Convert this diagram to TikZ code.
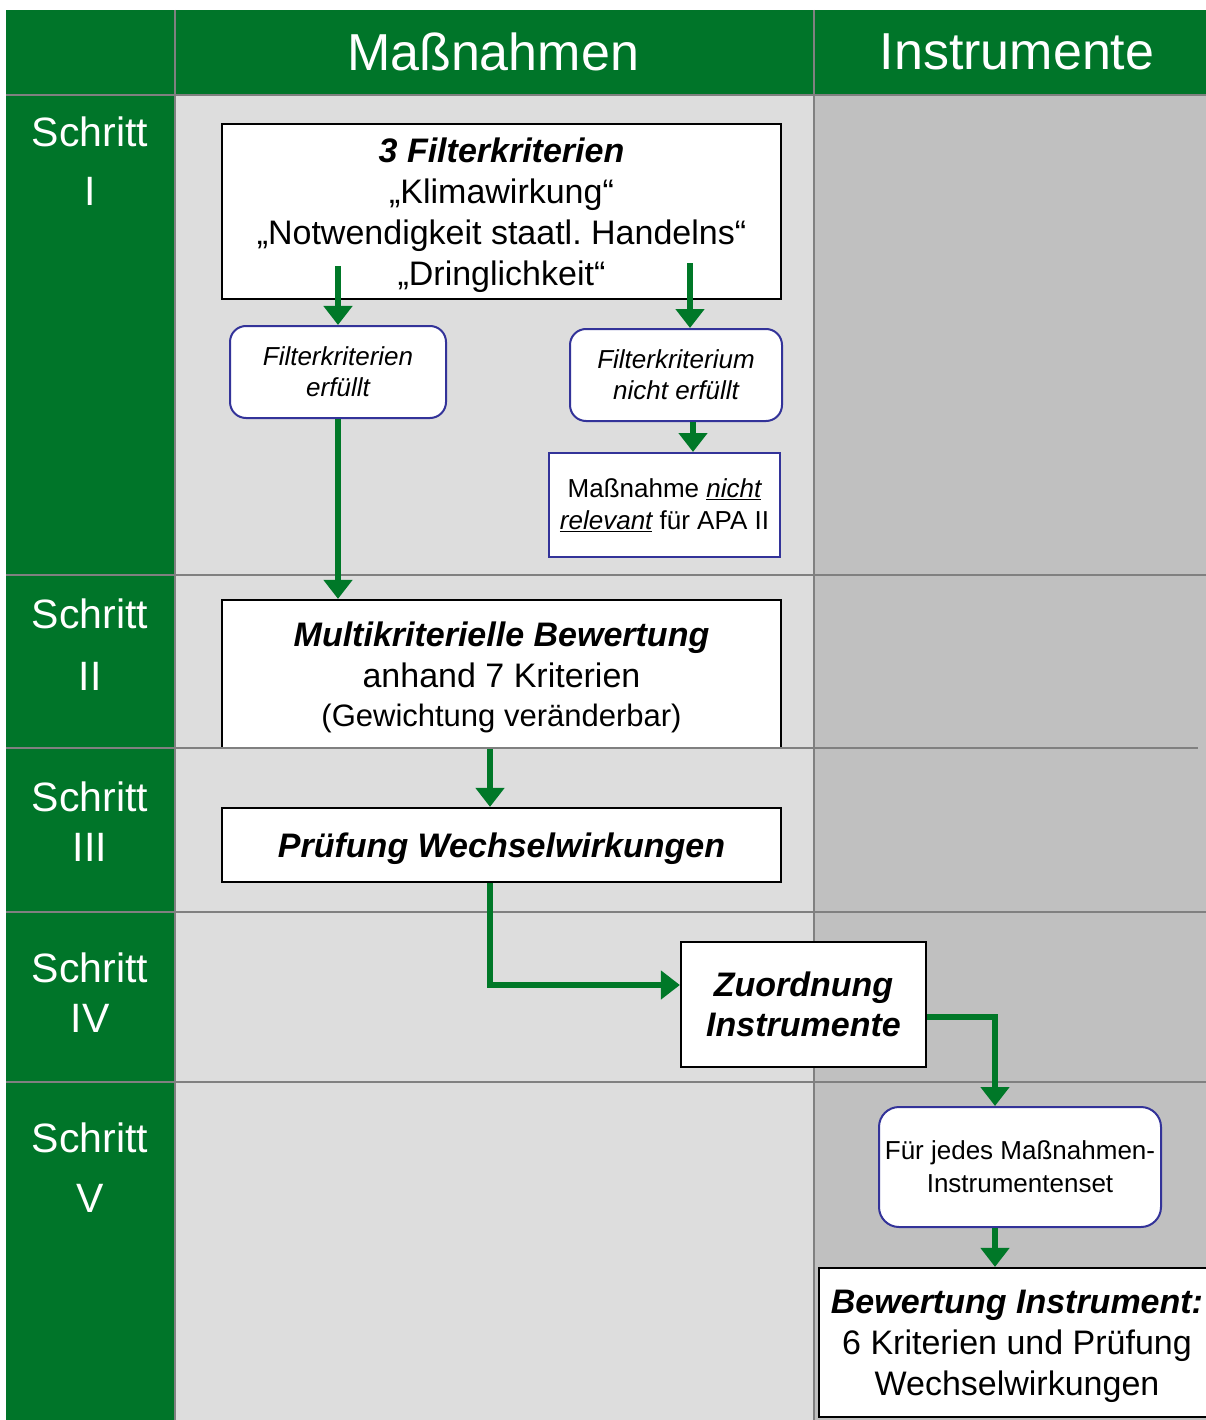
\documentclass[tikz,border=0pt]{standalone}
\usepackage{fontspec}
\setmainfont{Liberation Sans}
\frenchspacing
\usetikzlibrary{calc,arrows.meta}
\definecolor{hdr}{RGB}{0,117,41}
\definecolor{cellA}{RGB}{221,221,221}
\definecolor{cellB}{RGB}{192,192,192}
\definecolor{gridc}{RGB}{128,128,128}
\definecolor{blueb}{RGB}{51,51,153}
\definecolor{arrg}{RGB}{0,120,40}
\tikzset{
  gridline/.style={draw=gridc, line width=2.5pt},
  blackbox/.style={draw=black, line width=2.2pt, fill=white, inner sep=0pt, align=center, text depth=0pt},
  bluebox/.style={draw=blueb, line width=2pt, fill=white, inner sep=0pt, align=center},
  roundbox/.style={bluebox, rounded corners=16pt},
  flowarrow/.style={draw=arrg, line width=5.5pt, -{Triangle[width=28pt,length=19pt]}},
  steplabel/.style={text=white, align=center, inner sep=0pt},
  headlabel/.style={text=white, font=\fontsize{52}{60}\selectfont, inner sep=0pt},
  fbig/.style={font=\fontsize{34}{41}\selectfont},
  fsmallit/.style={font=\fontsize{26}{31}\selectfont\itshape}
}
\begin{document}
\begin{tikzpicture}[x=1pt,y=-1pt]
\path[use as bounding box, clip] (0,0) rectangle (1206,1420);
\fill[white] (0,0) rectangle (1206,1420);
% backgrounds
\fill[hdr] (6,10) rectangle (1206,95);
\fill[hdr] (6,95) rectangle (175,1420);
\fill[cellA] (175,95) rectangle (814,1420);
\fill[cellB] (814,95) rectangle (1206,1420);
% grid lines
\draw[gridline] (175,10) -- (175,1420);
\draw[gridline] (814,10) -- (814,1420);
\draw[gridline] (6,95) -- (1206,95);
\draw[gridline] (6,575) -- (1206,575);
\draw[gridline] (6,912) -- (1206,912);
\draw[gridline] (6,1082) -- (1206,1082);
% headers
\node[headlabel] (hm) at (493,52) {Maßnahmen};
\node[headlabel] (hi) at (1017,52) {Instrumente};
% step labels
\node[steplabel, font=\fontsize{41}{59}\selectfont] (s1) at (90,161) {Schritt\\I};
\node[steplabel, font=\fontsize{41}{62}\selectfont] (s2) at (90,645) {Schritt\\II};
\node[steplabel, font=\fontsize{41}{50}\selectfont] (s3) at (90,822) {Schritt\\III};
\node[steplabel, font=\fontsize{41}{50}\selectfont] (s4) at (90,993) {Schritt\\IV};
\node[steplabel, font=\fontsize{41}{60}\selectfont] (s5) at (90,1168) {Schritt\\V};
% boxes
\node[blackbox, fbig, minimum width=559pt, minimum height=175pt] (f) at (501.5,211.5)
  {{\bfseries\itshape 3 Filterkriterien}\\„Klimawirkung“\\„Notwendigkeit staatl. Handelns“\\„Dringlichkeit“};
\node[roundbox, fsmallit, minimum width=216pt, minimum height=92pt] (fe) at (338,372)
  {Filterkriterien\\erfüllt};
\node[roundbox, fsmallit, minimum width=212pt, minimum height=92pt] (fn) at (676,375)
  {Filterkriterium\\nicht erfüllt};
\node[bluebox, font=\fontsize{26}{32}\selectfont, minimum width=231pt, minimum height=104pt] (nr) at (664.5,505)
  {Maßnahme \underline{\itshape nicht}\\\underline{\itshape relevant} für APA II};
\node[blackbox, fbig, minimum width=559pt, minimum height=148pt] (mk) at (501.5,674)
  {{\bfseries\itshape Multikriterielle Bewertung}\\anhand 7 Kriterien\\[-2pt]{\fontsize{31}{38}\selectfont(Gewichtung veränderbar)}};
\node[blackbox, fbig, minimum width=559pt, minimum height=74pt] (pw) at (501.5,845)
  {\bfseries\itshape Prüfung Wechselwirkungen};
\node[blackbox, font=\fontsize{34}{40}\selectfont\bfseries\itshape, minimum width=245pt, minimum height=125pt] (zi) at (803.5,1004.5)
  {Zuordnung\\Instrumente};
\node[roundbox, font=\fontsize{26}{33}\selectfont, rounded corners=20pt, minimum width=282pt, minimum height=120pt] (fj) at (1020,1167)
  {Für jedes Maßnahmen-\\Instrumentenset};
\node[blackbox, fbig, minimum width=396pt, minimum height=149pt] (bi) at (1017,1342.5)
  {{\bfseries\itshape Bewertung Instrument:}\\6 Kriterien und Prüfung\hspace*{10pt}\\Wechselwirkungen};
% grid line on top of box bottom
\draw[gridline] (6,748) -- (1198,748);
% connectors
\draw[flowarrow] ($(f.south -| fe.north)+(0,-34)$) -- (fe.north);
\coordinate (c2) at ($(fn.north)+(14,0)$);
\draw[flowarrow] ($(f.south -| c2)+(0,-37)$) -- (c2);
\coordinate (c3) at ($(fn.south)+(17,0)$);
\draw[flowarrow] (c3) -- (c3 |- nr.north);
\draw[flowarrow] (fe.south) -- (fe.south |- mk.north);
\coordinate (c5) at ($(mk.south)+(-11.5,0)$);
\draw[flowarrow] (c5) -- (c5 |- pw.north);
\coordinate (c6) at ($(zi.west)+(0,-19.5)$);
\draw[flowarrow] (c5 |- pw.south) |- (c6);
\coordinate (c7) at ($(zi.east)+(0,12.5)$);
\coordinate (c8) at ($(fj.north)+(-25,0)$);
\draw[flowarrow] (c7) -| (c8);
\draw[flowarrow] (c8 |- fj.south) -- (c8 |- bi.north);
\end{tikzpicture}
\end{document}
